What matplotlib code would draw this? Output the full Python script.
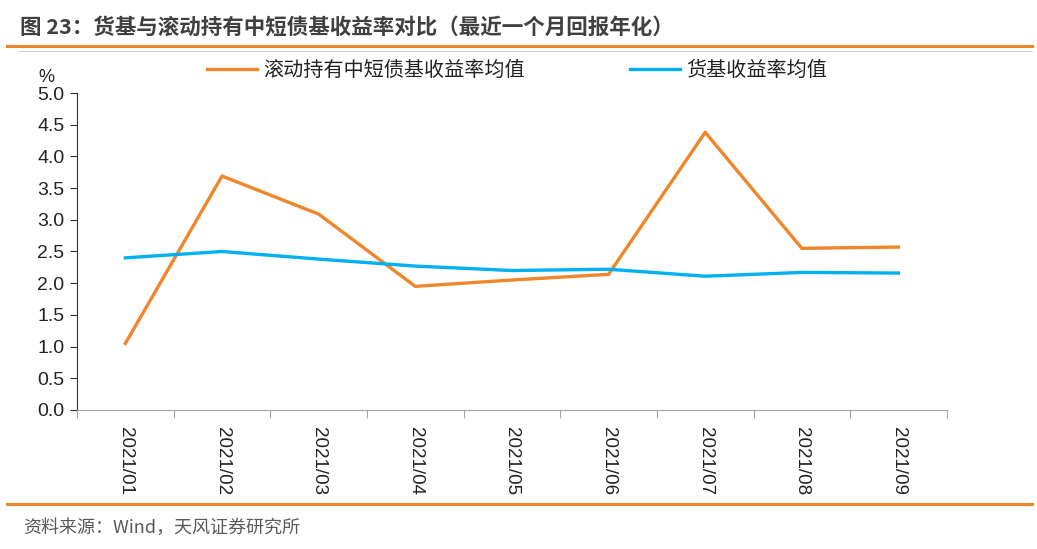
import matplotlib.pyplot as plt
from matplotlib.lines import Line2D

plt.rcParams['font.family'] = ['Liberation Sans', 'Noto Sans CJK SC', 'DejaVu Sans']

months = ['2021/01', '2021/02', '2021/03', '2021/04', '2021/05',
          '2021/06', '2021/07', '2021/08', '2021/09']
bond_fund = [1.05, 3.69, 3.09, 1.95, 2.05, 2.14, 4.38, 2.55, 2.57]
money_fund = [2.40, 2.50, 2.38, 2.27, 2.20, 2.22, 2.11, 2.17, 2.16]
yticks = [0.0, 0.5, 1.0, 1.5, 2.0, 2.5, 3.0, 3.5, 4.0, 4.5, 5.0]

orange = '#F0862A'
blue = '#00B0F0'
cjk = ['Noto Sans CJK SC', 'DejaVu Sans']

fig = plt.figure(figsize=(10.37, 5.49), dpi=100)
ax = fig.add_axes([0.0743, 0.2532, 0.8387, 0.5774])

x = list(range(len(months)))
ax.plot(x, bond_fund, color=orange, lw=2.4, label='滚动持有中短债基收益率均值')
ax.plot(x, money_fund, color=blue, lw=2.4, label='货基收益率均值')

ax.set_xlim(-0.5, len(months) - 0.5)
ax.set_ylim(0, 5)
ax.set_yticks(yticks)
ax.set_yticklabels([f'{v:.1f}' for v in yticks], fontsize=14, color='#222222')

# ticks between categories, labels at centres
ax.set_xticks([i - 0.5 for i in range(len(months) + 1)])
ax.set_xticklabels([])
ax.set_xticks(x, minor=True)
ax.set_xticklabels(months, minor=True, rotation=-90, fontsize=13.5, color='#222222')
ax.tick_params(axis='x', which='minor', length=0, pad=12)
ax.tick_params(axis='x', which='major', length=6, color='#A6A6A6')
ax.tick_params(axis='y', length=5, color='#333333', pad=4)

for s in ['top', 'right']:
    ax.spines[s].set_visible(False)
ax.spines['left'].set_color('#333333')
ax.spines['bottom'].set_color('#A6A6A6')

ax.text(-0.035, 1.035, '%', transform=ax.transAxes, fontsize=13, color='#222222', ha='center')

leg = ax.legend(loc='center', bbox_to_anchor=(0.506, 1.072), ncol=2, frameon=False,
                prop={'family': cjk, 'size': 14.5}, handlelength=2.5, columnspacing=5.2,
                handletextpad=0.3, borderpad=0, borderaxespad=0)
for t in leg.get_texts():
    t.set_color('#222222')

# title, separator lines and source note
fig.text(0.019, 0.951, '图 23：货基与滚动持有中短债基收益率对比（最近一个月回报年化）',
         fontsize=15.5, fontweight='bold', color='#404040', va='center', family=cjk)
fig.add_artist(Line2D([0.007, 0.995], [0.916, 0.916], color=orange, lw=2.2))
fig.add_artist(Line2D([0.017, 0.995], [0.907, 0.907], color='#D0D0D0', lw=0.8))
fig.add_artist(Line2D([0.007, 0.995], [0.082, 0.082], color=orange, lw=2.2))
fig.text(0.022, 0.038, '资料来源：Wind，天风证券研究所', fontsize=13, color='#595959',
         va='center', family=cjk)

fig.savefig('out.png', dpi=100)
